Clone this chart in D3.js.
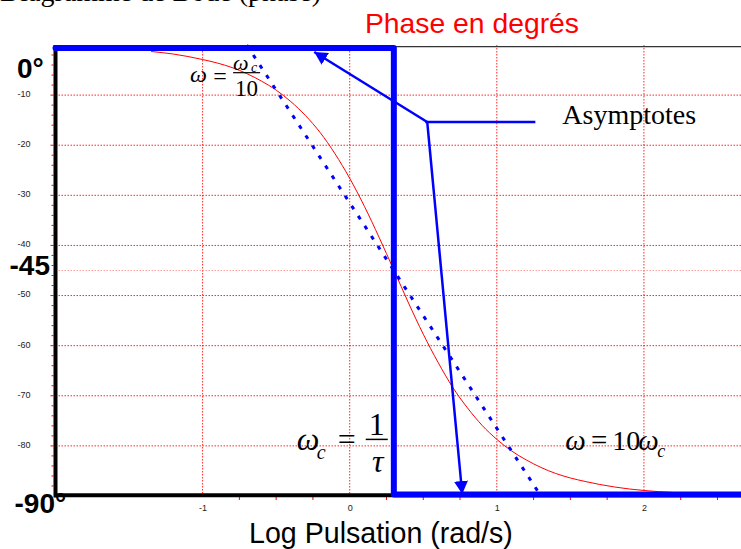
<!DOCTYPE html>
<html><head><meta charset="utf-8">
<script src="https://cdn.jsdelivr.net/npm/d3@7"></script>
<style>body{margin:0;background:#fff}svg{display:block}</style>
</head><body><svg id="c" width="741" height="549"></svg>
<script>
// ---- data ----
const curveX     = [-1.35,-1.2,-1.0,-0.9,-0.8,-0.7,-0.6,-0.5,-0.4,-0.3,-0.2,-0.1,0.0,0.1,0.2,0.3,0.4,0.5,0.6,0.7,0.8,0.9,1.0,1.1,1.2,1.3,1.4,1.5,1.6,1.7,1.8,1.9,2.0,2.2,2.4];
const curvePhase = [-1.3,-1.8,-2.9,-3.6,-4.5,-5.7,-7.2,-9.0,-11.3,-14.1,-17.5,-21.7,-26.6,-32.2,-38.4,-44.9,-51.5,-57.7,-63.3,-68.3,-72.4,-75.9,-78.7,-81.0,-82.8,-84.3,-85.5,-86.4,-87.1,-87.7,-88.2,-88.6,-88.9,-89.3,-89.5];
const asymX      = [-2, 0.3, 0.3, 2.66];
const asymPhase  = [-0.6, -0.6, -89.7, -89.7];
const slopeX     = [-0.7, 1.3];
const slopePhase = [0, -90];
const xTicks     = [-1, 0, 1, 2];
const yTicks     = [-10, -20, -30, -40, -50, -60, -70, -80];
const yGrid      = [-10, -20, -30, -40, -45, -50, -60, -70, -80];
const xMinor     = [-0.75,-0.5,-0.25,0.25,0.5,0.75,1.25,1.5,1.75,2.25,2.5];
const yMinor     = [-2,-4,-6,-8,-12,-14,-16,-18,-22,-24,-26,-28,-32,-34,-36,-38,-42,-44,-46,-48,-52,-54,-56,-58,-62,-64,-66,-68,-72,-74,-76,-78,-82,-84,-86,-88];
const junction   = {x: 0.527, y: -15.36};
const tipUp      = {x: -0.241, y: -1.4};
const tipDown    = {x: 0.765, y: -89.6};
const legendEnd  = {x: 1.262, y: -15.36};

// ---- scales ----
const svg = d3.select('#c');
const x = d3.scaleLinear().domain([-2, 2.66]).range([55.5, 741]);
const y = d3.scaleLinear().domain([0, -90]).range([45, 496]);
const SANS = 'Liberation Sans, Arial, sans-serif';
const SERIF = 'Liberation Serif, Times New Roman, serif';
const BLUE = '#0000ff';

// partially cropped caption at top
svg.append('text').attr('x', 0).attr('y', 1).attr('font-family', SERIF).attr('font-size', 28)
  .text('Diagramme de Bode (phase)');

// title
svg.append('text').attr('x', 365).attr('y', 33).attr('font-family', SANS).attr('font-size', 28.3)
  .attr('fill', '#ff0000').text('Phase en degrés');

// grid
const g = svg.append('g');
g.selectAll('.vg').data(xTicks).join('line')
  .attr('x1', d => x(d)).attr('x2', d => x(d)).attr('y1', y(0)).attr('y2', y(-90))
  .attr('stroke', '#ff0000').attr('stroke-width', 1).attr('stroke-dasharray', '1.5,1.5').attr('opacity', 0.85);
g.selectAll('.hg').data(yGrid).join('line')
  .attr('x1', x(-2)).attr('x2', 741).attr('y1', d => y(d)).attr('y2', d => y(d))
  .attr('stroke', d => d === -45 ? '#ff9090' : '#ff0000').attr('stroke-width', 1)
  .attr('stroke-dasharray', '1.5,1.5').attr('opacity', 0.85);

// minor ticks
g.selectAll('.xm').data(xMinor).join('line')
  .attr('x1', d => x(d)).attr('x2', d => x(d)).attr('y1', y(-90) + 1).attr('y2', y(-90) + 4)
  .attr('stroke', '#ff0000').attr('stroke-width', 1);
g.selectAll('.ym').data(yMinor).join('line')
  .attr('x1', x(-2) - 4).attr('x2', x(-2) - 2).attr('y1', d => y(d)).attr('y2', d => y(d))
  .attr('stroke', '#ff0000').attr('stroke-width', 1);
g.selectAll('.ymaj').data(yTicks).join('line')
  .attr('x1', x(-2) - 5).attr('x2', x(-2) - 2).attr('y1', d => y(d)).attr('y2', d => y(d))
  .attr('stroke', '#ff0000').attr('stroke-width', 1);

// tick labels via d3 axes
const ya = svg.append('g').attr('transform', `translate(${x(-2)},-1.5)`)
  .call(d3.axisLeft(y).tickValues(yTicks).tickSize(0).tickPadding(25).tickFormat(d => String(d)));
ya.select('.domain').remove();
ya.selectAll('text').attr('font-family', SANS).attr('font-size', 9).attr('fill', '#222');
const xa = svg.append('g').attr('transform', `translate(0,${y(-90)})`)
  .call(d3.axisBottom(x).tickValues(xTicks).tickSize(0).tickPadding(9).tickFormat(d => String(d)));
xa.select('.domain').remove();
xa.selectAll('text').attr('font-family', SANS).attr('font-size', 9).attr('fill', '#222');

// big axis labels
const big = [{t: '0°', v: 0, x: 17, dy: 32.5}, {t: '-45', v: -45, x: 9.5, dy: 4}, {t: '-90°', v: -90, x: 14.5, dy: 17}];
svg.selectAll('.big').data(big).join('text')
  .attr('x', d => d.x).attr('y', d => y(d.v) + d.dy)
  .attr('font-family', SANS).attr('font-weight', 'bold').attr('font-size', 28).attr('fill', '#000')
  .text(d => d.t);

// axis title
svg.append('text').attr('x', 249).attr('y', 542.5).attr('font-family', SANS).attr('font-size', 28.6)
  .text('Log Pulsation (rad/s)');

// red phase curve
const pts = curveX.map((v, i) => [v, curvePhase[i]]);
svg.append('path').datum(pts)
  .attr('d', d3.line().x(d => x(d[0])).y(d => y(d[1])).curve(d3.curveMonotoneX))
  .attr('fill', 'none').attr('stroke', '#ff0000').attr('stroke-width', 1);

// dotted slope asymptote
svg.append('path').datum(slopeX.map((v, i) => [v, slopePhase[i]]))
  .attr('d', d3.line().x(d => x(d[0])).y(d => y(d[1])))
  .attr('fill', 'none').attr('stroke', BLUE).attr('stroke-width', 3).attr('stroke-dasharray', '4,8');

// frame / axes
svg.append('line').attr('x1', x(-2)).attr('x2', 741).attr('y1', y(0) + 1.7).attr('y2', y(0) + 1.7)
  .attr('stroke', '#333').attr('stroke-width', 1.3);
svg.append('line').attr('x1', x(-2)).attr('x2', x(-2)).attr('y1', y(0)).attr('y2', y(-90) + 1.5)
  .attr('stroke', '#000').attr('stroke-width', 4);
svg.append('line').attr('x1', x(-2)).attr('x2', 741).attr('y1', y(-90) - 0.7).attr('y2', y(-90) - 0.7)
  .attr('stroke', '#000').attr('stroke-width', 4);

// thick blue asymptotes
svg.append('path').datum(asymX.map((v, i) => [v, asymPhase[i]]))
  .attr('d', d3.line().x(d => x(d[0])).y(d => y(d[1])))
  .attr('fill', 'none').attr('stroke', BLUE).attr('stroke-width', 6)
  .attr('stroke-linejoin', 'round').attr('stroke-linecap', 'round');

// arrows
const defs = svg.append('defs');
defs.append('marker').attr('id', 'ah').attr('viewBox', '0 0 13 14').attr('refX', 13).attr('refY', 7)
  .attr('markerWidth', 13).attr('markerHeight', 14).attr('markerUnits', 'userSpaceOnUse').attr('orient', 'auto')
  .append('path').attr('d', 'M0,0 L13,7 L0,14 Z').attr('fill', BLUE);
[tipUp, tipDown].forEach(t => {
  svg.append('line').attr('x1', x(junction.x)).attr('y1', y(junction.y))
    .attr('x2', x(t.x)).attr('y2', y(t.y))
    .attr('stroke', BLUE).attr('stroke-width', 2.5).attr('marker-end', 'url(#ah)');
});
svg.append('line').attr('x1', x(junction.x) - 2).attr('x2', x(legendEnd.x))
  .attr('y1', y(junction.y)).attr('y2', y(legendEnd.y)).attr('stroke', BLUE).attr('stroke-width', 2.5);
svg.append('text').attr('x', x(legendEnd.x) + 27).attr('y', y(legendEnd.y) + 2)
  .attr('font-family', SERIF).attr('font-size', 28).text('Asymptotes');

// math labels
function txt(px, py, s, size, opts = {}) {
  const t = svg.append('text').attr('x', px).attr('y', py).attr('font-family', SERIF)
    .attr('font-size', size).text(s);
  if (opts.italic) t.attr('font-style', 'italic');
  if (opts.anchor) t.attr('text-anchor', opts.anchor);
  return t;
}
// ω = ωc/10
{
  const ax = x(-1.085), ay = y(-7.58);
  txt(ax, ay - 1, 'ω', 24, {italic: true});
  txt(ax + 30, ay + 1, '=', 24, {anchor: 'middle'});
  txt(ax + 43, ay - 13, 'ω', 22, {italic: true});
  txt(ax + 61, ay - 11, 'c', 14, {italic: true});
  svg.append('line').attr('x1', ax + 43).attr('x2', ax + 70).attr('y1', ay - 10.3).attr('y2', ay - 10.3)
    .attr('stroke', '#000').attr('stroke-width', 1.2);
  txt(ax + 56.5, ay + 13.5, '10', 23, {anchor: 'middle'});
}
// ωc = 1/τ
{
  const ax = x(-0.36), ay = y(-80.8);
  txt(ax, ay, 'ω', 32, {italic: true});
  txt(ax + 20, ay + 9, 'c', 20, {italic: true});
  txt(ax + 50, ay, '=', 32, {anchor: 'middle'});
  svg.append('line').attr('x1', ax + 69).attr('x2', ax + 91).attr('y1', ay - 10.5).attr('y2', ay - 10.5)
    .attr('stroke', '#000').attr('stroke-width', 1.5);
  txt(ax + 80, ay - 15, '1', 32, {anchor: 'middle'});
  txt(ax + 81, ay + 22, 'τ', 32, {italic: true, anchor: 'middle'});
}
// ω = 10ωc
{
  const ax = x(1.465), ay = y(-80.8);
  txt(ax, ay, 'ω', 29, {italic: true});
  txt(ax + 34, ay, '=', 29, {anchor: 'middle'});
  txt(ax + 47, ay, '10', 28);
  txt(ax + 73, ay, 'ω', 29, {italic: true});
  txt(ax + 92, ay + 7, 'c', 18, {italic: true});
}
</script></body></html>
